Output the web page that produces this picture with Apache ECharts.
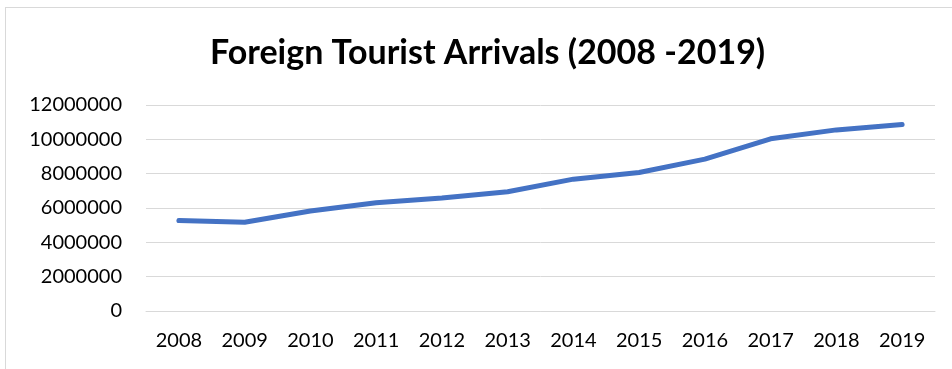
<!DOCTYPE html>
<html><head><meta charset="utf-8">
<script src="https://cdn.jsdelivr.net/npm/echarts@6/dist/echarts.min.js"></script>
<style>
html,body{margin:0;padding:0;background:#fff;}
#frame{position:absolute;left:5px;top:7px;width:960px;height:380px;border:1px solid #d9d9d9;box-sizing:border-box;}
#c{position:absolute;left:0;top:0;width:952px;height:369px;}
</style></head>
<body>
<div id="frame"></div>
<div id="c"></div>
<script>
const categories = ['2008','2009','2010','2011','2012','2013','2014','2015','2016','2017','2018','2019'];
const arrivals = [5270000,5170000,5830000,6310000,6580000,6950000,7680000,8070000,8850000,10030000,10550000,10860000];
const yTicks = {min:0, max:12000000, interval:2000000};

const chart = echarts.init(document.getElementById('c'), null, {renderer:'canvas'});
chart.setOption({
  animation:false,
  backgroundColor:'transparent',
  title:{text:'Foreign Tourist Arrivals (2008 -2019)', left:205, top:31,
    textStyle:{fontFamily:'Lato', fontWeight:'bold', fontSize:34, color:'#000'}},
  grid:{left:146, right:17, top:105, bottom:58},
  xAxis:{type:'category', data:categories, boundaryGap:true,
    axisLine:{show:true, lineStyle:{color:'#d9d9d9', width:1}},
    axisTick:{show:false},
    axisLabel:{fontFamily:'Lato', fontSize:20, color:'#000', margin:20}},
  yAxis:{type:'value', min:yTicks.min, max:yTicks.max, interval:yTicks.interval,
    axisLine:{show:false}, axisTick:{show:false},
    splitLine:{lineStyle:{color:'#d9d9d9', width:1}},
    axisLabel:{fontFamily:'Lato', fontSize:20, color:'#000', margin:24,
      formatter:function(v){return String(v);}}},
  series:[{type:'line', data:arrivals, showSymbol:false, symbol:'none',
    lineStyle:{color:'#4472C4', width:5, cap:'round', join:'round'}}]
});
</script>
</body></html>
